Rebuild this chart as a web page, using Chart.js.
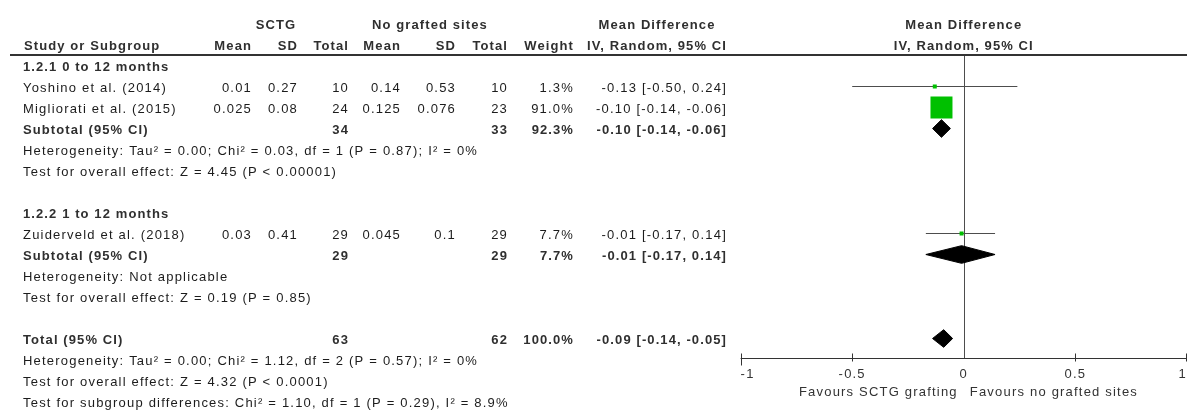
<!DOCTYPE html>
<html>
<head>
<meta charset="utf-8">
<title>Forest plot – SCTG vs no grafted sites</title>
<script src="https://cdn.jsdelivr.net/npm/chart.js@4.4.1/dist/chart.umd.min.js"></script>
<style>
  html, body { margin: 0; padding: 0; background: #ffffff; }
  canvas { display: block; }
</style>
</head>
<body>
<canvas id="forest" width="1187" height="412"></canvas>
<script>
// ---- individual studies ----
const studyNames  = ['Yoshino et al. (2014)', 'Migliorati et al. (2015)', 'Zuiderveld et al. (2018)'];
const studyGroup  = [0, 0, 1];
const sctgMean    = [0.01, 0.025, 0.03];
const sctgSD      = [0.27, 0.08, 0.41];
const sctgTotal   = [10, 24, 29];
const ctrlMean    = [0.14, 0.125, 0.045];
const ctrlSD      = [0.53, 0.076, 0.1];
const ctrlTotal   = [10, 23, 29];
const studyWeight = [1.3, 91.0, 7.7];
const studyMD     = [-0.13, -0.10, -0.01];
const studyLow    = [-0.50, -0.14, -0.17];
const studyHigh   = [0.24, -0.06, 0.14];

// ---- subgroups ----
const groupTitles    = ['1.2.1 0 to 12 months', '1.2.2 1 to 12 months'];
const groupSctgTotal = [34, 29];
const groupCtrlTotal = [33, 29];
const groupWeight    = [92.3, 7.7];
const groupMD        = [-0.10, -0.01];
const groupLow       = [-0.14, -0.17];
const groupHigh      = [-0.06, 0.14];
const groupHeterogeneity = [
  'Heterogeneity: Tau\u00b2 = 0.00; Chi\u00b2 = 0.03, df = 1 (P = 0.87); I\u00b2 = 0%',
  'Heterogeneity: Not applicable'
];
const groupEffect = [
  'Test for overall effect: Z = 4.45 (P < 0.00001)',
  'Test for overall effect: Z = 0.19 (P = 0.85)'
];

// ---- pooled total ----
const totalLabel  = 'Total (95% CI)';
const totalSctg   = [63];
const totalCtrl   = [62];
const totalWeight = [100.0];
const totalMD     = [-0.09];
const totalLow    = [-0.14];
const totalHigh   = [-0.05];
const totalNotes = [
  'Heterogeneity: Tau\u00b2 = 0.00; Chi\u00b2 = 1.12, df = 2 (P = 0.57); I\u00b2 = 0%',
  'Test for overall effect: Z = 4.32 (P < 0.0001)',
  'Test for subgroup differences: Chi\u00b2 = 1.10, df = 1 (P = 0.29), I\u00b2 = 8.9%'
];

// ---- axis ----
const axisTicks      = [-1, -0.5, 0, 0.5, 1];
const axisTickLabels = ['-1', '-0.5', '0', '0.5', '1'];
const favoursLabels  = ['Favours SCTG grafting', 'Favours no grafted sites'];

// ---------------------------------------------------------------------------
// Row layout (one row per line of the table)
const studyRows = [];
const groupRows = [];
let r = 0;
groupTitles.forEach((t, g) => {
  const block = { title: r++ };
  studyNames.forEach((n, i) => { if (studyGroup[i] === g) studyRows[i] = r++; });
  block.subtotal = r++;
  block.het = r++;
  block.effect = r++;
  r++; // spacer
  groupRows.push(block);
});
const totalRow = r++;
const noteRows = totalNotes.map(() => r++);

// Styling
const FONT = '"Liberation Sans", Arial, sans-serif';
const TXT = '#1c1c1c';
const BOLD = '#2f2f2f';
const LINE = '#4d4d4d';
const BOX = '#00c000';
const ROW_PX = 21;
const TEXT_DY = 1.5;         // nudges text onto the visual row centre
const DIAMOND_HALF = 0.42;   // half height of summary diamonds, in rows
const MAX_BOX = 22;          // side of the heaviest study's box, px

const fmtCI = (m, lo, hi) => `${m.toFixed(2)} [${lo.toFixed(2)}, ${hi.toFixed(2)}]`;
const fmtW = w => w.toFixed(1) + '%';

// ---- datasets ----
const datasets = [];

// confidence interval whiskers
studyNames.forEach((n, i) => {
  datasets.push({
    type: 'line',
    data: [{ x: studyLow[i], y: studyRows[i] }, { x: studyHigh[i], y: studyRows[i] }],
    borderColor: LINE, borderWidth: 1, pointRadius: 0, fill: false, order: 3
  });
});

// weighted boxes
const maxW = Math.max(...studyWeight);
datasets.push({
  type: 'scatter',
  data: studyNames.map((n, i) => ({ x: studyMD[i], y: studyRows[i] })),
  pointStyle: 'rect',
  pointRadius: studyWeight.map(w => Math.max(4, MAX_BOX * w / maxW) / (2 * Math.SQRT1_2)),
  backgroundColor: BOX, borderColor: BOX, borderWidth: 0, order: 1
});

// summary diamonds
function diamond(m, lo, hi, row) {
  return {
    type: 'line',
    data: [
      { x: lo, y: row }, { x: m, y: row - DIAMOND_HALF },
      { x: hi, y: row }, { x: m, y: row + DIAMOND_HALF }, { x: lo, y: row }
    ],
    borderColor: '#000', backgroundColor: '#000', borderWidth: 1,
    pointRadius: 0, tension: 0, fill: 'shape', order: 2
  };
}
groupTitles.forEach((t, g) => datasets.push(diamond(groupMD[g], groupLow[g], groupHigh[g], groupRows[g].subtotal)));
datasets.push(diamond(totalMD[0], totalLow[0], totalHigh[0], totalRow));

// ---- table, rules and axis drawn against the chart scales ----
const tablePlugin = {
  id: 'forestTable',
  beforeDatasetsDraw(chart) {
    const { ctx, chartArea, scales: { x } } = chart;
    ctx.save();
    // line of no effect
    const x0 = Math.round(x.getPixelForValue(0)) + 0.5;
    ctx.strokeStyle = LINE;
    ctx.lineWidth = 1;
    ctx.beginPath();
    ctx.moveTo(x0, chartArea.top);
    ctx.lineTo(x0, chartArea.bottom);
    ctx.stroke();
    ctx.restore();
  },
  afterDraw(chart) {
    const { ctx, chartArea, scales: { x, y } } = chart;
    const rowY = row => y.getPixelForValue(row) + TEXT_DY;
    ctx.save();
    ctx.textBaseline = 'middle';

    // draw text at an absolute pixel height
    function put(s, px, py, align, bold, color) {
      ctx.font = (bold ? 'bold ' : '') + '13px ' + FONT;
      ctx.letterSpacing = bold ? '1.1px' : '1.2px';
      ctx.fillStyle = color || (bold ? BOLD : TXT);
      ctx.textAlign = align || 'left';
      ctx.fillText(s, px, py);
    }
    // draw text on a table row
    const txt = (s, px, row, align, bold, color) => put(s, px, rowY(row), align, bold, color);

    // column right edges of the table
    const C = { name: 23, m1: 252, sd1: 298, n1: 349, m2: 401, sd2: 456, n2: 508, w: 574, ci: 727 };

    // header
    const h1 = -2, h2 = -1;
    const xc = x.getPixelForValue(0);
    txt('SCTG', 276, h1, 'center', true);
    txt('No grafted sites', 430, h1, 'center', true);
    txt('Mean Difference', 657, h1, 'center', true);
    txt('Mean Difference', xc, h1, 'center', true);
    txt('Study or Subgroup', 24, h2, 'left', true);
    txt('Mean', C.m1, h2, 'right', true);
    txt('SD', C.sd1, h2, 'right', true);
    txt('Total', C.n1, h2, 'right', true);
    txt('Mean', C.m2, h2, 'right', true);
    txt('SD', C.sd2, h2, 'right', true);
    txt('Total', C.n2, h2, 'right', true);
    txt('Weight', C.w, h2, 'right', true);
    txt('IV, Random, 95% CI', C.ci, h2, 'right', true);
    txt('IV, Random, 95% CI', xc, h2, 'center', true);

    // header rule
    ctx.strokeStyle = '#333';
    ctx.lineWidth = 2;
    ctx.beginPath();
    const ruleY = Math.round(y.getPixelForValue(-0.5));
    ctx.moveTo(10, ruleY);
    ctx.lineTo(chart.width, ruleY);
    ctx.stroke();

    // subgroups
    groupTitles.forEach((t, g) => {
      const b = groupRows[g];
      txt(t, C.name, b.title, 'left', true);
      studyNames.forEach((n, i) => {
        if (studyGroup[i] !== g) return;
        const row = studyRows[i];
        txt(n, C.name, row);
        txt(String(sctgMean[i]), C.m1, row, 'right');
        txt(String(sctgSD[i]), C.sd1, row, 'right');
        txt(String(sctgTotal[i]), C.n1, row, 'right');
        txt(String(ctrlMean[i]), C.m2, row, 'right');
        txt(String(ctrlSD[i]), C.sd2, row, 'right');
        txt(String(ctrlTotal[i]), C.n2, row, 'right');
        txt(fmtW(studyWeight[i]), C.w, row, 'right');
        txt(fmtCI(studyMD[i], studyLow[i], studyHigh[i]), C.ci, row, 'right');
      });
      txt('Subtotal (95% CI)', C.name, b.subtotal, 'left', true);
      txt(String(groupSctgTotal[g]), C.n1, b.subtotal, 'right', true);
      txt(String(groupCtrlTotal[g]), C.n2, b.subtotal, 'right', true);
      txt(fmtW(groupWeight[g]), C.w, b.subtotal, 'right', true);
      txt(fmtCI(groupMD[g], groupLow[g], groupHigh[g]), C.ci, b.subtotal, 'right', true);
      txt(groupHeterogeneity[g], C.name, b.het);
      txt(groupEffect[g], C.name, b.effect);
    });

    // total
    txt(totalLabel, C.name, totalRow, 'left', true);
    txt(String(totalSctg[0]), C.n1, totalRow, 'right', true);
    txt(String(totalCtrl[0]), C.n2, totalRow, 'right', true);
    txt(fmtW(totalWeight[0]), C.w, totalRow, 'right', true);
    txt(fmtCI(totalMD[0], totalLow[0], totalHigh[0]), C.ci, totalRow, 'right', true);
    totalNotes.forEach((s, k) => txt(s, C.name, noteRows[k]));

    // x axis
    const yb = chartArea.bottom;
    ctx.strokeStyle = '#333';
    ctx.lineWidth = 1;
    ctx.beginPath();
    ctx.moveTo(x.getPixelForValue(axisTicks[0]), yb);
    ctx.lineTo(x.getPixelForValue(axisTicks[axisTicks.length - 1]), yb);
    axisTicks.forEach((v, k) => {
      if (v === 0) return;
      let px = Math.round(x.getPixelForValue(v)) + 0.5;
      px = Math.min(Math.max(px, 0.5), chart.width - 0.5);
      ctx.moveTo(px, yb - 5);
      ctx.lineTo(px, yb + (k === 0 ? 7 : 3));
    });
    ctx.stroke();
    axisTicks.forEach((v, k) => {
      const px = x.getPixelForValue(v);
      const align = k === 0 ? 'left' : (k === axisTicks.length - 1 ? 'right' : 'center');
      put(axisTickLabels[k], px, yb + 16, align, false, '#333');
    });
    put(favoursLabels[0], xc - 6, yb + 34, 'right', false, '#333');
    put(favoursLabels[1], xc + 6, yb + 34, 'left', false, '#333');

    ctx.restore();
  }
};

new Chart(document.getElementById('forest'), {
  type: 'scatter',
  data: { datasets },
  plugins: [tablePlugin],
  options: {
    responsive: false,
    animation: false,
    events: [],
    layout: { autoPadding: false, padding: { left: 740.6, right: 0, top: 55.5, bottom: 412 - 358.5 } },
    scales: {
      x: { type: 'linear', min: axisTicks[0], max: axisTicks[axisTicks.length - 1], display: false },
      y: { type: 'linear', min: -10 / ROW_PX, max: -10 / ROW_PX + 303 / ROW_PX, reverse: true, display: false }
    },
    plugins: { legend: { display: false }, tooltip: { enabled: false } }
  }
});
</script>
</body>
</html>
